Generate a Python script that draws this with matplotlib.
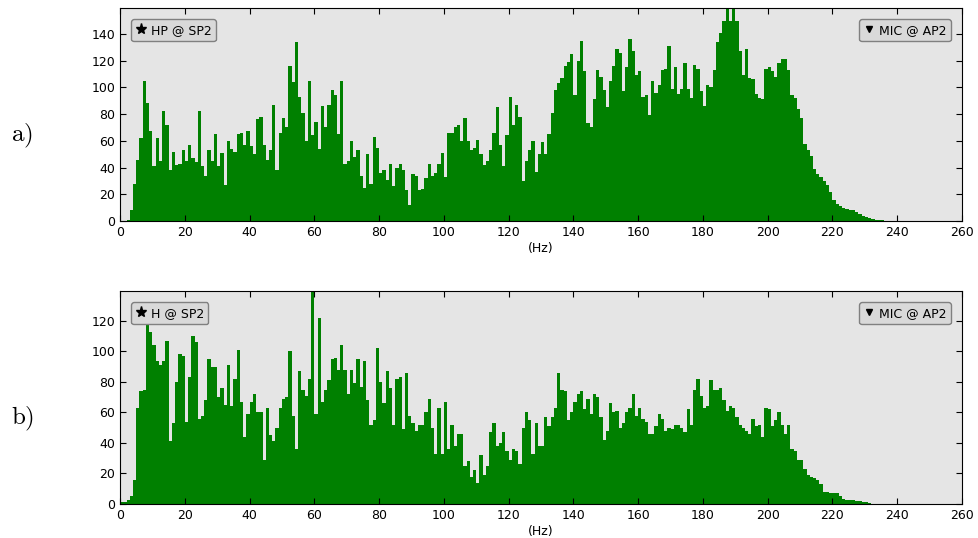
import matplotlib
matplotlib.use('Agg')
import matplotlib.pyplot as plt
from matplotlib.lines import Line2D
import numpy as np

# spectrum magnitude per 1 Hz bin, starting at 0 Hz
hp_sp2 = [
    0, 0, 1, 8, 28, 46, 62, 105, 88, 67,
    41, 62, 45, 82, 72, 38, 52, 42, 43, 53,
    45, 57, 47, 44, 82, 41, 34, 53, 45, 65,
    41, 51, 27, 60, 54, 52, 65, 66, 57, 67,
    56, 50, 76, 78, 57, 46, 53, 87, 38, 66,
    77, 70, 116, 104, 134, 93, 81, 60, 105, 64,
    74, 54, 86, 70, 87, 98, 94, 65, 105, 43,
    45, 60, 48, 53, 34, 25, 50, 28, 63, 55,
    36, 38, 31, 43, 26, 40, 43, 38, 23, 12,
    35, 34, 23, 24, 32, 43, 34, 36, 43, 51,
    33, 66, 66, 70, 72, 60, 77, 60, 53, 55,
    61, 50, 42, 45, 53, 66, 85, 57, 41, 64,
    93, 72, 87, 78, 30, 45, 53, 60, 37, 50,
    59, 50, 65, 81, 98, 103, 107, 116, 119, 125,
    94, 120, 135, 112, 73, 70, 91, 113, 108, 98,
    85, 105, 116, 129, 126, 97, 115, 136, 127, 109,
    112, 93, 94, 79, 105, 96, 102, 113, 114, 131,
    99, 115, 95, 99, 118, 99, 92, 117, 114, 97,
    86, 102, 100, 113, 134, 141, 150, 159.4, 150, 159.4,
    150, 127, 109, 129, 107, 106, 95, 92, 91, 114,
    115, 112, 108, 118, 121, 121, 113, 94, 92, 84,
    77, 58, 53, 49, 39, 35, 33, 30, 27, 22,
    16, 13, 11, 10, 9, 8, 8, 7, 5, 4,
    3, 2, 1.5, 1, 0.8, 0.4, 0, 0, 0, 0,
]

h_sp2 = [
    1.5, 1.5, 2.5, 5, 16, 63, 74, 75, 118, 113,
    104, 94, 91, 94, 107, 41, 53, 80, 98, 97,
    54, 83, 110, 106, 56, 58, 68, 95, 90, 90,
    70, 76, 65, 91, 64, 82, 101, 67, 44, 59,
    67, 72, 60, 60, 29, 63, 45, 41, 50, 63,
    69, 70, 100, 58, 36, 87, 75, 71, 82, 139.6,
    59, 122, 67, 75, 81, 95, 96, 88, 104, 88,
    72, 88, 79, 95, 77, 94, 68, 52, 55, 102,
    80, 66, 87, 76, 52, 82, 83, 49, 86, 58,
    53, 48, 52, 52, 60, 69, 50, 33, 63, 33,
    67, 36, 52, 38, 46, 46, 25, 28, 18, 22,
    14, 32, 19, 25, 47, 53, 38, 40, 47, 35,
    29, 36, 35, 26, 50, 60, 55, 33, 53, 38,
    38, 57, 51, 57, 63, 86, 75, 74, 55, 60,
    67, 72, 74, 62, 69, 59, 72, 70, 57, 42,
    48, 66, 60, 61, 50, 53, 60, 63, 72, 58,
    63, 56, 54, 46, 46, 51, 59, 56, 48, 50,
    49, 52, 52, 50, 47, 62, 52, 75, 82, 71,
    63, 64, 81, 75, 75, 76, 68, 61, 64, 63,
    57, 52, 50, 48, 46, 56, 51, 52, 44, 63,
    62, 51, 55, 60, 52, 46, 52, 36, 35, 29,
    29, 23, 19, 18, 17, 16, 13, 8, 8, 7.5,
    7.5, 7, 5, 3, 2.6, 2.6, 2.4, 2, 1.7, 1.2,
    1, 0.6, 0, 0, 0, 0, 0, 0, 0, 0,
]

panels = [("a)", hp_sp2, "HP @ SP2"), ("b)", h_sp2, "H @ SP2")]
mic_label = "MIC @ AP2"
xticks = np.arange(0, 261, 20)

plt.rcParams['mathtext.fontset'] = 'cm'
plt.rcParams['font.size'] = 9

fig = plt.figure(figsize=(9.79, 5.38), dpi=100)
rects = [[0.1226, 0.5892, 0.860, 0.3959],
         [0.1226, 0.0632, 0.860, 0.3959]]

for rect, (tag, vals, label) in zip(rects, panels):
    ax = fig.add_axes(rect)
    ax.set_facecolor('#e5e5e5')
    freqs = np.arange(len(vals))
    ax.bar(freqs, vals, width=1.0, align='edge', color='#008000', linewidth=0)
    ax.set_xlim(0, 260)
    ax.set_ylim(0, max(vals))
    ax.set_xticks(xticks)
    ax.set_yticks(np.arange(0, max(vals), 20))
    ax.tick_params(direction='in', top=True, right=True, length=4, labelsize=9)
    ax.set_xlabel("(Hz)", fontsize=9, labelpad=2)

    star = Line2D([], [], linestyle='none', marker='*', color='black', markersize=8)
    tri = Line2D([], [], linestyle='none', marker='v', color='black', markersize=5)
    leg_kw = dict(fontsize=9, numpoints=1, handlelength=0.8, handletextpad=0.4,
                  borderpad=0.35, borderaxespad=0.9, fancybox=True, framealpha=1)
    l1 = ax.legend([star], [label], loc='upper left', **leg_kw)
    l1.get_frame().set_facecolor('#d9d9d9')
    l1.get_frame().set_edgecolor('#808080')
    ax.add_artist(l1)
    l2 = ax.legend([tri], [mic_label], loc='upper right', **leg_kw)
    l2.get_frame().set_facecolor('#d9d9d9')
    l2.get_frame().set_edgecolor('#808080')

    fig.text(0.011, rect[1] + rect[3] * 0.40, r'$\mathrm{%s}$' % tag, fontsize=18,
             va='center', ha='left')

plt.savefig("out.png", dpi=100)
